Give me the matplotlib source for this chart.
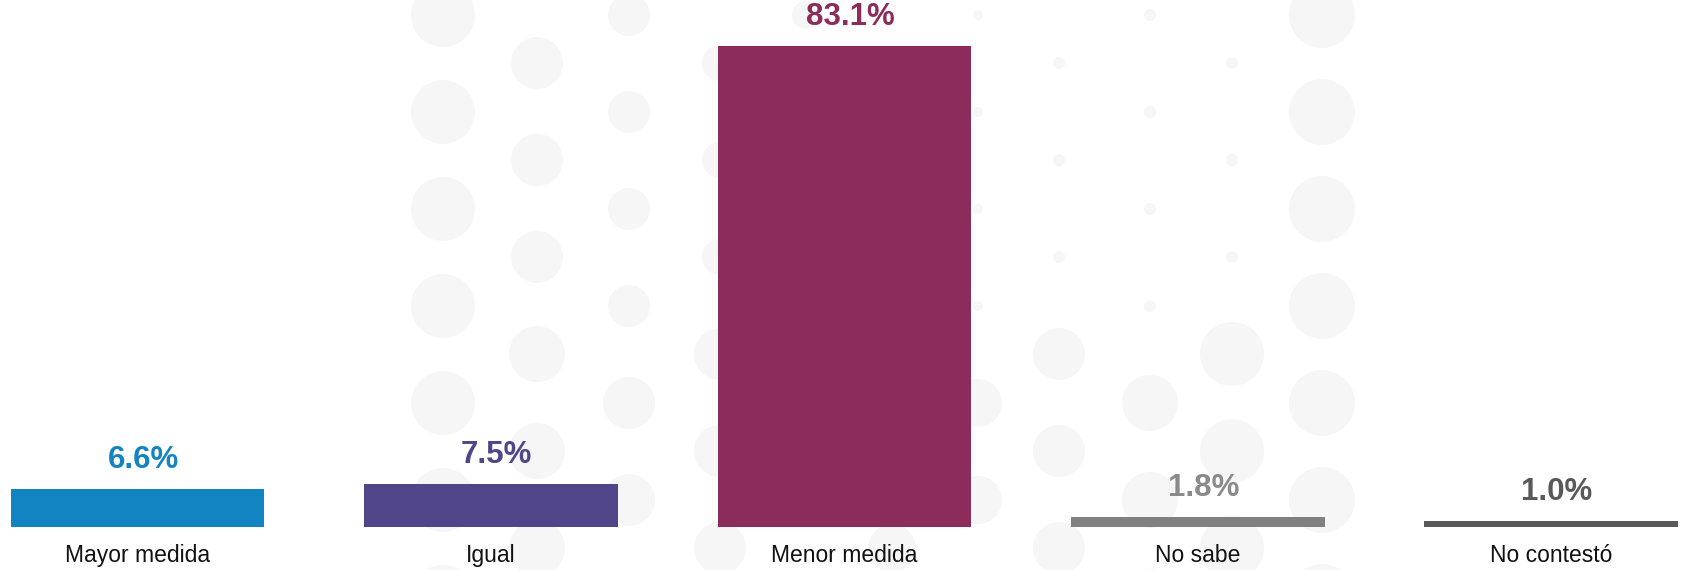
import matplotlib.pyplot as plt
from matplotlib.patches import Circle

categories = ["Mayor medida", "Igual", "Menor medida", "No sabe", "No contestó"]
values = [6.6, 7.5, 83.1, 1.8, 1.0]
labels = ["6.6%", "7.5%", "83.1%", "1.8%", "1.0%"]
bar_colors = ["#1184C1", "#51458A", "#8C2C5A", "#808080", "#595959"]
text_colors = ["#1184C1", "#51458A", "#8C2C5A", "#8A8A8A", "#595959"]

# faint halftone dots in the background (pixel coords, decoration only)
dot_cols = [443, 537, 629, 720, 806, 892, 978, 1059, 1150, 1232, 1322]
dot_top_r = [32, 26, 21, 18, 14, 8, 5, 6, 6, 6, 33]
dot_low_r = [32, 28, 26, 26, 24, 24, 24, 26, 28, 32, 33]

plt.rcParams["font.family"] = ["Liberation Sans", "DejaVu Sans"]

fig = plt.figure(figsize=(16.85, 5.7), dpi=100)

bg = fig.add_axes([0, 0, 1, 1], zorder=-1)
bg.set_xlim(0, 1685)
bg.set_ylim(570, 0)
bg.axis("off")
for i, (cx, rt, rl) in enumerate(zip(dot_cols, dot_top_r, dot_low_r)):
    start = 15 if i % 2 == 0 else 63
    for cy in range(start, 600, 97):
        r = rt if cy < 330 else rl
        bg.add_patch(Circle((cx, cy), r, color="#f6f6f6", lw=0))

ax = fig.add_axes([0, 43 / 570, 1, 1 - 43 / 570])
ax.patch.set_alpha(0)

x = list(range(len(categories)))
bars = ax.bar(x, values, width=0.718, color=bar_colors, zorder=2)

for bar, label, color in zip(bars, labels, text_colors):
    ax.annotate(label, (bar.get_x() + bar.get_width() / 2, bar.get_height()),
                xytext=(4, 10), textcoords="offset points",
                ha="center", va="bottom", fontsize=22.5, fontweight="bold",
                color=color)

for xi, cat in zip(x, categories):
    ax.annotate(cat, (xi, 0), xytext=(0, -25), textcoords="offset points",
                ha="center", va="baseline", fontsize=16.5, color="#111111",
                annotation_clip=False)

ax.set_xlim(-0.389, 4.378)
ax.set_ylim(0, 91)
ax.axis("off")

fig.savefig("out.png", dpi=100)
